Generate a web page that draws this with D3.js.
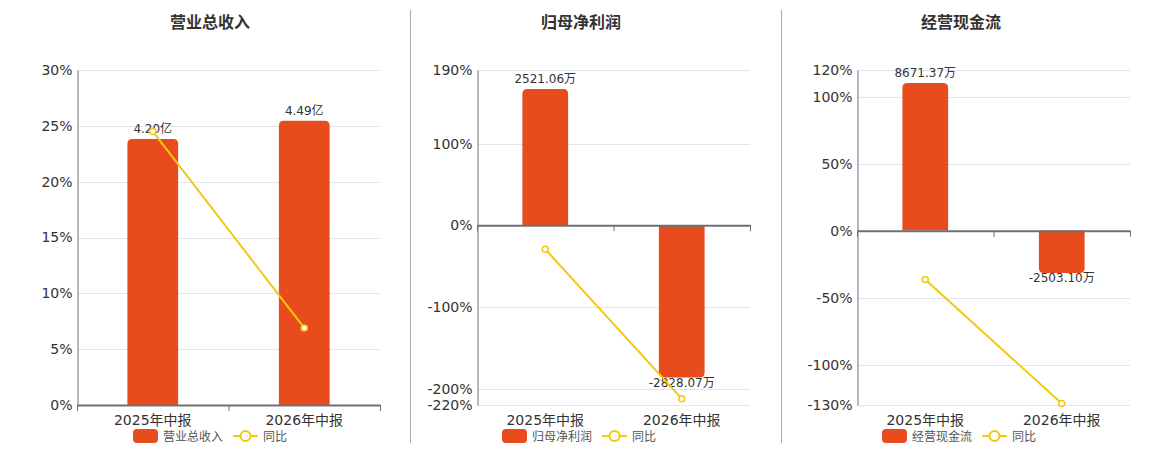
<!DOCTYPE html>
<html>
<head>
<meta charset="utf-8">
<script src="https://cdn.jsdelivr.net/npm/d3@7"></script>
<style>
body{margin:0;background:#fff;}
text{font-family:"DejaVu Sans","Noto Sans CJK SC",sans-serif;}
</style>
</head>
<body>
<div class="box"></div>
<script>
// data
const categories=['2025年中报','2026年中报'];
const titles=['营业总收入','归母净利润','经营现金流'];

const revenueValues=[4.20,4.49];
const revenueLabels=['4.20亿','4.49亿'];
const revenueYoy=[24.5,6.9];
const revenueTicks=[0,5,10,15,20,25,30];

const profitValues=[2521.06,-2828.07];
const profitLabels=['2521.06万','-2828.07万'];
const profitYoy=[-29.4,-212.2];
const profitTicks=[-220,-200,-100,0,100,190];

const cashValues=[8671.37,-2503.10];
const cashLabels=['8671.37万','-2503.10万'];
const cashYoy=[-36.4,-128.9];
const cashTicks=[-130,-100,-50,0,50,100,120];

const barColor='#E84B1C', lineColor='#F2C811';
const W=1160,H=450;
const plotTop=70,plotBottom=405;

const svg=d3.select('.box').append('svg').attr('width',W).attr('height',H).style('background','white');

// panel dividers
[410.5,781.5].forEach(x=>{
  svg.append('line').attr('x1',x).attr('x2',x).attr('y1',10).attr('y2',443)
    .attr('stroke','#aaa').attr('stroke-width',1);
});

const panels=[
  {title:titles[0],titleX:210,left:77,right:380,values:revenueValues,labels:revenueLabels,yoy:revenueYoy,ticks:revenueTicks,barDomain:[0,5.29],legendX:133},
  {title:titles[1],titleX:581,left:477,right:750,values:profitValues,labels:profitLabels,yoy:profitYoy,ticks:profitTicks,barDomain:[-3336,2873],legendX:502},
  {title:titles[2],titleX:961,left:857,right:1130,values:cashValues,labels:cashLabels,yoy:cashYoy,ticks:cashTicks,barDomain:[-10259,9436],legendX:882}
];

function roundedBar(x,y0,y1,w,r){
  // rounded corners on the far end from zero
  const h=Math.abs(y1-y0);
  r=Math.min(r,h,w/2);
  if(y1<y0){ // positive bar, top rounded
    return `M${x},${y0}V${y1+r}Q${x},${y1} ${x+r},${y1}H${x+w-r}Q${x+w},${y1} ${x+w},${y1+r}V${y0}Z`;
  }
  return `M${x},${y0}V${y1-r}Q${x},${y1} ${x+r},${y1}H${x+w-r}Q${x+w},${y1} ${x+w},${y1-r}V${y0}Z`;
}

panels.forEach(p=>{
  const g=svg.append('g');
  const ticks=p.ticks;
  const y=d3.scaleLinear().domain([d3.min(ticks),d3.max(ticks)]).range([plotBottom,plotTop]);
  const yb=d3.scaleLinear().domain(p.barDomain).range([plotBottom,plotTop]);
  const x=d3.scaleBand().domain(categories).range([p.left,p.right]).padding(0);
  const bw=x.bandwidth()*0.335;
  const zero=y(0);

  g.append('text').attr('x',p.titleX).attr('y',28).attr('text-anchor','middle')
    .attr('font-size',16).attr('font-weight','bold').attr('fill','#333').text(p.title);

  // grid
  g.selectAll('.grid').data(ticks).enter().append('line')
    .attr('x1',p.left).attr('x2',p.right).attr('y1',d=>Math.round(y(d))+0.5).attr('y2',d=>Math.round(y(d))+0.5)
    .attr('stroke','#E0E6F1');

  // y axis
  const axY=d3.axisLeft(y).tickValues(ticks).tickSize(0).tickPadding(5).tickFormat(d=>d+'%');
  const gy=g.append('g').attr('transform',`translate(${p.left+0.5},0)`).call(axY);
  gy.select('.domain').attr('stroke','#6E7079');
  gy.selectAll('text').attr('font-size',14).attr('fill','#333')
    .style('font-family','"DejaVu Sans","Noto Sans CJK SC",sans-serif');

  // bars
  g.selectAll('.bar').data(p.values).enter().append('path')
    .attr('fill',barColor)
    .attr('d',(d,i)=>roundedBar(x(categories[i])+(x.bandwidth()-bw)/2,yb(0),yb(d),bw,5));

  // x axis at zero
  const axX=d3.axisBottom(x).tickSize(0).tickFormat('');
  const gx=g.append('g').attr('transform',`translate(0,${zero})`).call(axX);
  gx.select('.domain').attr('stroke','#6E7079').attr('stroke-width',2);
  const bounds=[p.left,p.left+x.step(),p.right];
  g.selectAll('.xt').data(bounds).enter().append('line')
    .attr('x1',d=>d+0.5).attr('x2',d=>d+0.5).attr('y1',zero).attr('y2',zero+6)
    .attr('stroke','#6E7079');
  g.selectAll('.xl').data(categories).enter().append('text')
    .attr('x',d=>x(d)+x.bandwidth()/2).attr('y',425).attr('text-anchor','middle')
    .attr('font-size',14).attr('fill','#333').text(d=>d);

  // bar labels
  g.selectAll('.bl').data(p.values).enter().append('text')
    .attr('x',(d,i)=>x(categories[i])+x.bandwidth()/2)
    .attr('y',d=>d>=0?yb(d)-6:yb(d)+9)
    .attr('text-anchor','middle').attr('font-size',12).attr('fill','#333')
    .text((d,i)=>p.labels[i]);

  // yoy line
  const line=d3.line().x((d,i)=>x(categories[i])+x.bandwidth()/2).y(d=>y(d));
  g.append('path').datum(p.yoy).attr('d',line).attr('fill','none')
    .attr('stroke',lineColor).attr('stroke-width',2);
  g.selectAll('.pt').data(p.yoy).enter().append('circle')
    .attr('cx',(d,i)=>x(categories[i])+x.bandwidth()/2).attr('cy',d=>y(d)).attr('r',3)
    .attr('fill','#fff').attr('stroke',lineColor).attr('stroke-width',1.5);

  // legend
  const lg=g.append('g').attr('transform',`translate(${p.legendX},436)`);
  lg.append('rect').attr('x',0).attr('y',-7).attr('width',25).attr('height',14).attr('rx',4).attr('fill',barColor);
  lg.append('text').attr('x',30).attr('y',4.5).attr('font-size',12).attr('fill','#555').text(p.title);
  lg.append('line').attr('x1',100).attr('x2',125).attr('y1',0).attr('y2',0).attr('stroke',lineColor).attr('stroke-width',2);
  lg.append('circle').attr('cx',112.5).attr('cy',0).attr('r',5).attr('fill','#fff').attr('stroke',lineColor).attr('stroke-width',2);
  lg.append('text').attr('x',130).attr('y',4.5).attr('font-size',12).attr('fill','#555').text('同比');
});
</script>
</body>
</html>
